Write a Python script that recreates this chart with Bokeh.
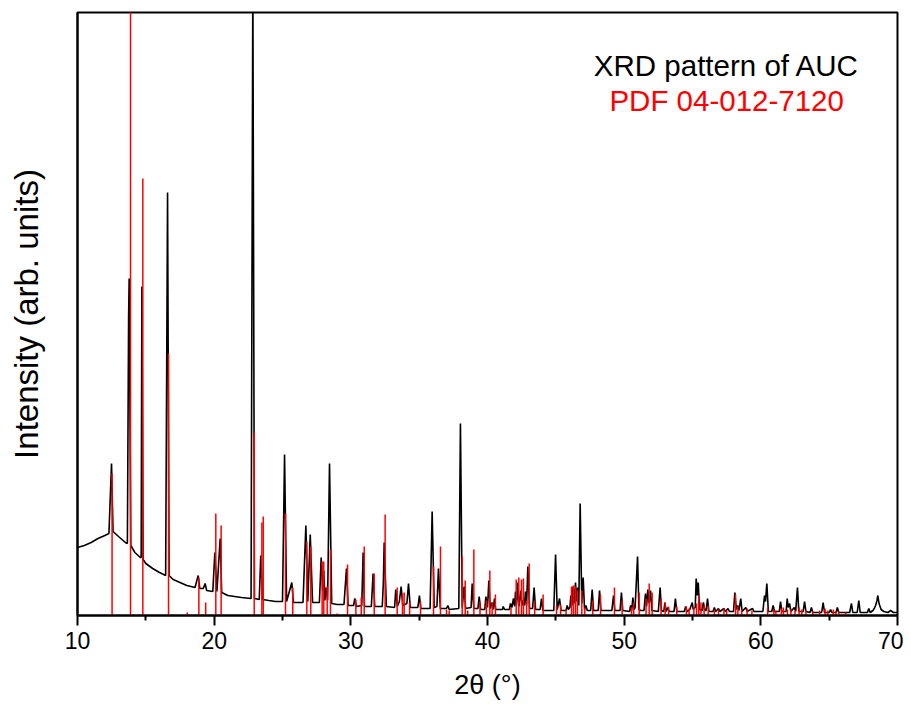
from bokeh.plotting import figure
from bokeh.models import Range1d, FixedTicker, Label
from bokeh.embed import file_html
from bokeh.resources import INLINE

# Measured XRD pattern of AUC (2theta in degrees, intensity in arb. units)
xrd_two_theta = [
    10.0, 10.5, 11.0, 11.5, 12.0, 12.3, 12.49, 12.6, 13.0, 13.5, 13.65, 13.74, 13.78, 13.9,
    14.2, 14.6, 14.66, 14.71, 14.8, 15.0, 15.5, 16.0, 16.45, 16.59, 16.7, 17.0, 17.5, 18.0,
    18.6, 18.83, 18.95, 19.2, 19.34, 19.45, 19.9, 20.05, 20.2, 20.44, 20.55, 21.0, 21.5, 22.0,
    22.7, 22.83, 22.95, 23.3, 23.41, 23.55, 24.0, 24.5, 25.0, 25.15, 25.3, 25.68, 25.8, 26.5,
    26.71, 26.85, 27.03, 27.2, 27.7, 27.83, 27.95, 28.02, 28.1, 28.2, 28.3, 28.44, 28.6, 29.0,
    29.5, 29.68, 29.8, 30.2, 30.29, 30.4, 30.8, 30.9, 31.0, 31.5, 31.63, 31.75, 32.3, 32.38,
    32.44, 32.6, 33.2, 33.29, 33.4, 33.55, 33.68, 33.8, 34.1, 34.22, 34.35, 34.9, 35.02, 35.12,
    35.8, 35.95, 36.1, 36.3, 36.41, 36.55, 37.0, 37.1, 37.2, 37.9, 38.02, 38.15, 38.29, 38.4,
    38.8, 38.88, 39.0, 39.3, 39.39, 39.5, 39.8, 39.88, 40.0, 40.1, 40.2, 40.34, 40.42, 40.51,
    40.6, 41.1, 41.15, 41.25, 41.6, 41.68, 41.78, 41.9, 41.98, 42.05, 42.12, 42.2, 42.3, 42.44,
    42.52, 42.62, 42.7, 42.78, 42.86, 42.95, 43.08, 43.3, 43.41, 43.52, 43.85, 43.95, 44.05,
    44.85, 44.98, 45.1, 45.27, 45.38, 45.75, 45.83, 45.92, 46.03, 46.1, 46.18, 46.26, 46.33,
    46.44, 46.52, 46.6, 46.68, 46.78, 46.9, 47.0, 47.1, 47.2, 47.3, 47.55, 47.66, 47.76, 48.1,
    48.2, 48.3, 49.1, 49.22, 49.32, 49.7, 49.8, 49.9, 50.4, 50.47, 50.55, 50.64, 50.72, 50.8,
    50.98, 51.08, 51.2, 51.45, 51.56, 51.64, 51.73, 51.83, 51.93, 52.03, 52.5, 52.63, 52.73,
    52.9, 52.98, 53.08, 53.2, 53.3, 53.65, 53.75, 53.85, 54.4, 54.5, 54.6, 54.8, 54.98, 55.05,
    55.2, 55.27, 55.35, 55.42, 55.52, 55.7, 55.8, 55.9, 56.0, 56.1, 56.2, 56.5, 56.6, 56.7,
    56.9, 57.0, 57.3, 57.4, 57.6, 57.7, 58.0, 58.1, 58.2, 58.3, 58.4, 58.53, 58.63, 58.9, 59.0,
    59.4, 59.5, 60.15, 60.27, 60.34, 60.44, 60.55, 60.8, 60.9, 61.0, 61.35, 61.44, 61.54, 61.85,
    61.93, 62.0, 62.1, 62.2, 62.45, 62.55, 62.68, 62.78, 63.1, 63.2, 63.3, 63.6, 63.7, 63.8,
    64.45, 64.56, 64.66, 65.0, 65.1, 65.2, 65.5, 65.6, 65.7, 66.5, 66.63, 66.73, 67.05, 67.17,
    67.27, 67.8, 67.9, 68.0, 68.2, 68.3, 68.4, 68.5, 68.56, 68.65, 68.8, 69.0, 69.3, 69.5, 69.7,
    70.0,
]
xrd_intensity = [
    68, 70, 73, 77, 80, 82, 152, 84, 79, 73, 72, 300, 337, 70,
    63, 58, 58, 329, 56, 52, 47, 43, 40, 423, 40, 36, 33, 30,
    28, 40, 27, 27, 32, 25, 24, 63, 24, 77, 23, 20, 19, 18,
    17, 640, 17, 16, 60, 16, 15, 14, 14, 161, 14, 33, 13, 13,
    90, 14, 81, 13, 13, 58, 25, 45, 15, 28, 15, 152, 12, 11,
    11, 47, 10, 10, 17, 9, 10, 63, 9, 9, 42, 9, 9, 33,
    73, 9, 8, 26, 9, 14, 29, 10, 12, 32, 8, 8, 20, 7,
    7, 104, 8, 9, 47, 7, 7, 10, 6, 7, 192, 8, 29, 7,
    8, 32, 7, 7, 19, 6, 6, 19, 8, 35, 7, 13, 6, 17,
    6, 6, 9, 6, 6, 12, 8, 17, 9, 24, 10, 33, 9, 25,
    10, 15, 10, 24, 10, 49, 7, 7, 28, 6, 6, 17, 5,
    5, 61, 6, 17, 5, 5, 10, 6, 8, 20, 10, 29, 12,
    33, 14, 28, 10, 112, 12, 38, 6, 10, 5, 5, 26, 5, 5,
    25, 5, 5, 20, 5, 5, 23, 5, 4, 10, 5, 18, 6, 8,
    59, 6, 5, 5, 22, 9, 26, 12, 25, 5, 4, 28, 5,
    4, 13, 4, 8, 4, 4, 17, 4, 4, 9, 4, 6, 13, 6,
    8, 37, 20, 33, 6, 5, 13, 5, 5, 17, 4, 4, 8, 4,
    7, 4, 7, 4, 7, 4, 4, 23, 6, 10, 5, 17, 4, 8, 4,
    7, 4, 4, 20, 14, 32, 4, 4, 10, 4, 4, 14, 4, 4,
    17, 8, 12, 4, 8, 4, 28, 4, 4, 14, 4, 3, 8, 3,
    3, 13, 3, 3, 6, 3, 3, 8, 3, 3, 12, 3, 3, 15,
    3, 3, 7, 3, 5, 7, 10, 15, 20, 12, 6, 4, 3, 5, 3,
    3,
]

# Reference pattern PDF 04-012-7120 (stick positions and relative intensities)
pdf_two_theta = [
    12.53, 13.88, 14.78, 16.66, 18.03, 18.88, 19.38, 20.12, 20.51, 22.93, 23.49, 23.59,
    25.22, 25.75, 26.78, 27.07, 27.90, 28.02, 28.27, 28.51, 29.00, 29.76, 30.37, 30.76,
    30.98, 31.71, 32.51, 33.39, 33.78, 33.90, 34.30, 35.10, 36.05, 36.56, 37.00, 37.20,
    38.15, 38.37, 38.55, 39.00, 39.45, 39.92, 40.17, 40.34, 40.58, 41.72, 42.10, 42.29,
    42.49, 42.63, 42.86, 43.05, 43.45, 44.07, 45.05, 45.35, 45.75, 46.15, 46.29, 46.44,
    46.58, 46.90, 47.12, 47.70, 48.27, 49.29, 49.85, 50.54, 50.70, 51.10, 51.60, 51.83,
    52.05, 52.70, 53.00, 53.25, 53.85, 54.55, 54.75, 55.10, 55.30, 55.46, 55.62, 55.85,
    56.15, 56.60, 56.90, 57.30, 57.50, 58.15, 58.32, 58.60, 59.00, 59.35, 60.50, 60.95,
    61.10, 61.50, 61.65, 61.95, 62.20, 62.50, 62.80, 63.00, 63.30, 63.80, 64.30, 64.70,
    64.90, 65.30, 65.50, 65.70, 66.20,
]
pdf_intensity = [
    142, 1000, 437, 262, 3, 38, 13, 102, 90, 183, 93, 99,
    102, 28, 74, 69, 54, 54, 29, 66, 2, 51, 16, 18,
    69, 42, 101, 28, 22, 23, 13, 14, 49, 69, 6, 5,
    59, 35, 5, 66, 14, 15, 45, 13, 21, 8, 36, 38,
    36, 37, 15, 52, 14, 21, 10, 11, 6, 29, 30, 29,
    25, 25, 8, 15, 21, 28, 15, 8, 13, 23, 17, 32,
    23, 17, 13, 9, 9, 9, 7, 9, 12, 20, 13, 10,
    10, 6, 6, 7, 5, 21, 9, 6, 7, 5, 8, 6,
    5, 7, 8, 6, 6, 5, 8, 6, 5, 4, 5, 7,
    5, 6, 4, 4, 3,
]
pdf_base = [0] * len(pdf_two_theta)

x_ticks = [10, 20, 30, 40, 50, 60, 70]
x_minor_ticks = [15, 25, 35, 45, 55, 65]

FONT = "Liberation Sans"

p = figure(width=903, height=706, x_range=Range1d(10, 70), y_range=Range1d(0, 603),
           output_backend="svg", toolbar_location=None,
           min_border_left=77, min_border_top=12, min_border_right=6, min_border_bottom=91)
p.grid.visible = False
p.outline_line_color = "black"
p.outline_line_width = 2
p.background_fill_color = "white"
p.border_fill_color = "white"

p.line(xrd_two_theta, xrd_intensity, line_color="black", line_width=1.6)
p.segment(x0=pdf_two_theta, y0=pdf_base, x1=pdf_two_theta, y1=pdf_intensity,
          line_color="#ff0000", line_width=1.5)

xa = p.xaxis[0]
xa.ticker = FixedTicker(ticks=x_ticks, minor_ticks=x_minor_ticks)
xa.axis_line_width = 2
xa.major_tick_line_width = 2
xa.minor_tick_line_width = 2
xa.major_tick_out = 10
xa.major_tick_in = 0
xa.minor_tick_out = 5
xa.minor_tick_in = 0
xa.major_label_text_font = FONT
xa.major_label_text_font_size = "23px"
xa.major_label_text_color = "black"
xa.major_label_standoff = 6
xa.axis_label = "2θ (°)"
xa.axis_label_text_font = FONT
xa.axis_label_text_font_style = "normal"
xa.axis_label_text_font_size = "27px"
xa.axis_label_text_color = "black"
xa.axis_label_standoff = 18

ya = p.yaxis[0]
ya.ticker = FixedTicker(ticks=[])
ya.major_tick_out = 0
ya.major_tick_in = 0
ya.minor_tick_out = 0
ya.minor_tick_in = 0
ya.axis_line_width = 2
ya.major_label_text_font_size = "0px"
ya.axis_label = "Intensity (arb. units)"
ya.axis_label_text_font = FONT
ya.axis_label_text_font_style = "normal"
ya.axis_label_text_font_size = "33px"
ya.axis_label_text_color = "black"
ya.axis_label_standoff = 33

p.add_layout(Label(x=57.5, y=550, text="XRD pattern of AUC", text_align="center",
                   text_baseline="alphabetic", text_font=FONT, text_font_size="29.5px",
                   text_color="black"))
p.add_layout(Label(x=57.5, y=515, text="PDF 04-012-7120", text_align="center",
                   text_baseline="alphabetic", text_font=FONT, text_font_size="29.5px",
                   text_color="#ff0000"))

open("out.html", "w").write(file_html(p, INLINE))
